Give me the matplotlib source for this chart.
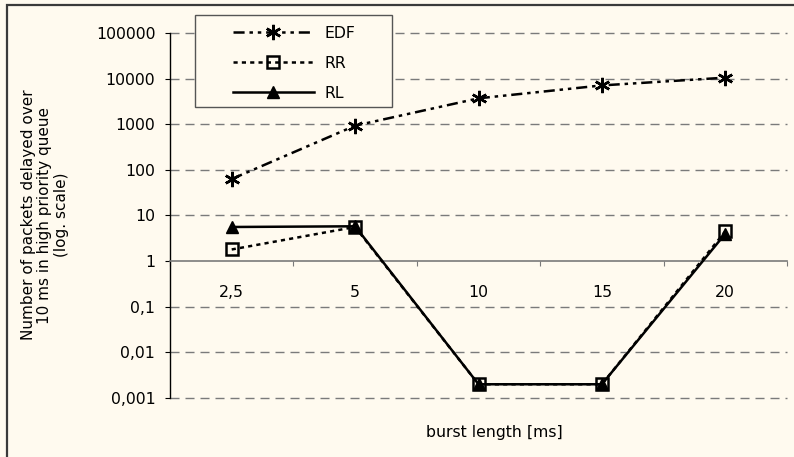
import matplotlib
matplotlib.use("Agg")
import matplotlib.pyplot as plt
from matplotlib.ticker import FixedLocator, FixedFormatter, NullFormatter
from matplotlib.patches import Rectangle

# ---- data ----
categories = ["2,5", "5", "10", "15", "20"]
edf = [63, 930, 3700, 7100, 10500]
rr = [1.8, 5.6, 0.002, 0.002, 4.5]
rl = [5.6, 5.8, 0.002, 0.002, 4.0]
ytick_values = [0.001, 0.01, 0.1, 1, 10, 100, 1000, 10000, 100000]
ytick_labels = ["0,001", "0,01", "0,1", "1", "10", "100", "1000", "10000", "100000"]

plt.rcParams["font.family"] = ["DejaVu Sans"]
plt.rcParams["lines.scale_dashes"] = False

W, H, DPI = 794, 457, 100
bg = "#FFFAEF"
fig = plt.figure(figsize=(W / DPI, H / DPI), dpi=DPI, facecolor=bg)

# axes box in pixels
left, right, top, bottom = 170, 787, 33, 398
ax = fig.add_axes([left / W, 1 - bottom / H, (right - left) / W, (bottom - top) / H])
ax.set_facecolor(bg)

ax.set_yscale("log")
ax.set_ylim(ytick_values[0], ytick_values[-1])
ax.set_xlim(0, len(categories))
x = [i + 0.5 for i in range(len(categories))]

# horizontal gridlines (dashed), except at the category axis
for v in ytick_values:
    if v == 1:
        continue
    ax.axhline(v, color="#7a7a7a", lw=1.0, dashes=(6.5, 4.3), zorder=1, clip_on=False)

# series
ax.plot(x, edf, color="black", lw=1.8, dashes=(8, 3.5, 2.5, 3.5, 2.5, 3.5),
        marker=(6, 2, 0), ms=11, mew=1.8, mec="black", zorder=3, label="EDF")
ax.plot(x, rr, color="black", lw=1.8, dashes=(3, 3),
        marker="s", ms=9, mfc="none", mew=1.8, mec="black", zorder=3, label="RR")
ax.plot(x, rl, color="black", lw=1.8, linestyle="-",
        marker="^", ms=9, mfc="black", mec="black", zorder=4, label="RL")

# spines
for s in ("top", "right"):
    ax.spines[s].set_visible(False)
ax.spines["left"].set_color("black")
ax.spines["left"].set_linewidth(1.0)
ax.spines["bottom"].set_position(("data", 1))
ax.spines["bottom"].set_color("#7a7a7a")
ax.spines["bottom"].set_linewidth(1.2)

# y ticks
ax.yaxis.set_major_locator(FixedLocator(ytick_values))
ax.yaxis.set_major_formatter(FixedFormatter(ytick_labels))
ax.yaxis.set_minor_locator(FixedLocator([]))
ax.tick_params(axis="y", which="major", direction="out", length=3.6, width=0.8,
               color="black", pad=7, labelsize=11.3, labelcolor="black")

# x ticks: marks at category boundaries, labels at category centres
ax.xaxis.set_major_locator(FixedLocator(list(range(len(categories) + 1))))
ax.xaxis.set_major_formatter(NullFormatter())
ax.xaxis.set_minor_locator(FixedLocator(x))
ax.xaxis.set_minor_formatter(FixedFormatter(categories))
ax.tick_params(axis="x", which="major", direction="out", length=3.6, width=0.8,
               color="#7a7a7a")
ax.tick_params(axis="x", which="minor", length=0, pad=17, labelsize=11.3,
               labelcolor="black")

# legend (frame drawn separately so its padding can be asymmetric)
leg_x0, leg_y0, leg_x1, leg_y1 = 195, 15, 392, 107
leg = fig.legend(loc="upper left", bbox_to_anchor=(233 / W, 1 - 25.5 / H),
                 frameon=False, fontsize=11.3, handlelength=5.15, handletextpad=0.7,
                 borderpad=0, labelspacing=0.96, borderaxespad=0)
leg.set_zorder(6)
fig.patches.append(Rectangle((leg_x0 / W, 1 - leg_y1 / H), (leg_x1 - leg_x0) / W,
                             (leg_y1 - leg_y0) / H, transform=fig.transFigure,
                             facecolor=bg, edgecolor="#555555", lw=1.0, zorder=5))

# axis titles
fig.text(45 / W, 1 - 215 / H,
         "Number of packets delayed over\n10 ms in high priority queue\n(log. scale)",
         rotation=90, ha="center", va="center", multialignment="center",
         fontsize=11, linespacing=1.1)
fig.text(494 / W, 1 - 433 / H, "burst length [ms]", ha="center", va="center",
         fontsize=11.3)

# outer chart frame (left and top edges visible)
fig.patches.append(Rectangle((7 / W, -0.1), 1.2, 1 - 5 / H + 0.1,
                             transform=fig.transFigure, fill=False,
                             edgecolor="#3a3a3a", lw=1.6))

fig.savefig("out.png", dpi=DPI, facecolor=bg)
